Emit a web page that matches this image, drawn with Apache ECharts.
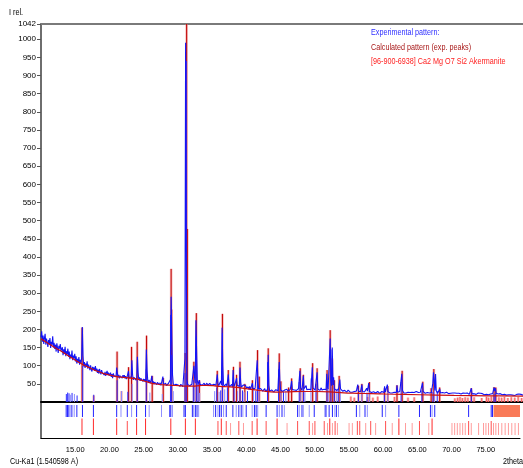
<!DOCTYPE html>
<html>
<head>
<meta charset="utf-8">
<script src="https://cdn.jsdelivr.net/npm/echarts@6/dist/echarts.min.js"></script>
<style>
html,body{margin:0;padding:0;background:#fff}
#chart{width:523px;height:468px}
</style>
</head>
<body>
<div id="chart"></div>
<script>
// Measured diffraction pattern: counts sampled every 0.1 deg 2theta from 10.0 to 80.0
const expStart = 10;
const expStep = 0.1;
const expCounts = [
  178,195,166,183,160,177,188,158,175,170,
  152,171,160,176,149,166,158,181,150,163,
  146,158,139,162,150,135,155,147,160,141,
  138,151,129,145,133,152,126,140,131,147,
  125,139,118,131,122,142,115,128,120,133,
  112,126,106,119,109,124,103,116,108,121,
  207,128,98,110,94,106,99,112,92,103,
  96,88,101,90,84,97,89,95,86,99,
  85,92,80,89,78,91,83,76,88,81,
  79,85,74,83,72,80,86,75,81,73,
  74,81,69,77,66,79,72,68,76,70,
  95,78,68,75,65,72,77,70,66,74,
  68,74,65,71,63,69,72,85,66,70,
  64,70,115,75,61,68,63,71,60,67,
  125,82,62,68,58,65,61,67,57,64,
  57,63,55,145,88,60,54,61,56,52,
  53,72,50,57,49,55,51,58,48,54,
  50,55,47,53,46,52,49,70,48,51,
  48,52,45,50,44,51,47,53,62,290,
  180,75,52,46,50,44,49,45,51,47,
  46,50,43,49,45,48,42,47,44,120,
  990,400,62,48,43,50,45,47,42,49,
  45,50,100,68,52,225,140,60,48,44,
  60,49,45,51,46,50,47,52,45,49,
  47,52,46,50,44,51,48,53,46,50,
  45,49,44,50,46,48,76,52,45,49,
  44,58,47,205,100,50,43,48,45,50,
  43,47,76,48,42,46,44,49,41,88,
  52,44,47,42,66,46,41,48,43,95,
  55,41,45,40,47,50,43,46,40,44,
  37,41,35,43,34,40,38,52,36,40,
  34,38,33,40,115,62,36,39,33,37,
  32,36,30,35,33,37,29,34,31,35,
  130,46,30,34,29,33,31,35,28,32,
  30,34,29,33,31,35,110,55,33,30,
  32,29,34,31,33,37,30,35,32,29,
  33,31,35,32,58,34,30,36,33,31,
  34,32,36,33,37,35,86,39,34,32,
  35,72,37,33,36,45,34,38,32,35,
  33,37,34,36,96,39,35,38,33,36,
  34,82,36,33,37,32,35,39,33,36,
  32,35,33,37,34,78,42,36,33,35,
  175,60,45,150,47,68,37,33,35,32,
  34,31,35,33,62,36,32,34,30,33,
  29,32,28,31,27,30,33,28,31,27,
  28,31,27,30,26,29,32,27,30,26,
  48,30,27,31,28,33,48,29,32,27,
  28,31,27,38,30,26,52,29,27,30,
  26,29,25,28,27,30,25,28,26,29,
  25,28,24,27,26,29,25,28,26,43,
  27,30,25,48,28,26,29,25,27,30,
  25,28,24,27,25,29,26,46,27,24,
  26,29,25,28,78,32,27,25,28,26,
  25,28,24,27,25,29,26,28,24,27,
  25,28,26,24,27,29,25,28,26,27,
  24,27,23,27,53,29,25,27,24,26,
  23,26,24,27,25,28,24,26,30,52,
  82,58,32,77,31,27,24,26,23,36,
  25,27,23,26,24,28,25,26,23,27,
  24,26,23,27,25,24,26,23,25,27,
  22,25,23,21,24,26,22,24,23,25,
  22,24,21,25,23,22,24,21,23,25,
  22,24,21,23,25,38,22,24,21,23,
  22,24,21,23,22,25,21,23,24,22,
  21,23,22,24,20,23,22,21,24,22,
  20,23,19,22,24,21,23,25,40,30,
  38,24,21,19,22,20,21,23,19,22,
  20,22,19,21,20,23,19,21,22,20,
  19,22,20,18,21,19,22,20,18,21,
  19,21,18,20,22,19,18,21,19,20,
  19
];

// Calculated background curve
const calcBgDeg = [10,11,12,13,14,15,16,17,18,19,20,21,22,23,24,25,26,27,28,29,30,31,32,33,34,35,36,37,38,39,40,42,44,46,48,50,52,54,56,58,60,65,70,75,80];
const calcBgVal = [174,162,150,139,127,115,104,95,86,79,74,70,68,66,63,58,52,49,47,46,45,44,44,45,46,45,43,42,41,39,36,31,27,28,29,29,28,25,24,23,22,20,18,17,16];

// Calculated peaks (exp. peaks): position and intensity
const calcPeakPos = [15.97,17.66,21.05,21.69,22.72,23.15,23.97,25.33,26.15,27.75,28.9,28.97,30.95,31.15,31.25,32.2,32.56,33.0,35.6,36.35,37.2,37.95,38.4,38.9,39.6,40.7,41.45,41.7,43.0,44.6,44.84,45.96,46.4,47.65,48.1,49.45,50.1,51.55,52.0,52.3,52.6,53.3,55.0,55.5,56.1,56.6,57.45,57.7,58.2,58.9,59.9,60.36,61.33,61.7,62.45,63.3,64.2,65.45,66.66,67.05,67.9,70.1,70.5,70.85,71.2,71.6,72.0,72.5,72.9,74.0,74.7,75.0,75.4,75.8,76.05,76.5,76.9,77.3,77.8,78.3,78.8,79.3,79.8];
const calcPeakInt = [205,18,139,30,96,152,166,183,72,66,367,255,135,1042,477,111,245,60,86,243,88,97,75,111,50,60,143,70,148,134,57,40,65,93,75,107,93,88,198,120,60,72,15,12,45,50,14,55,12,15,38,44,14,46,86,12,13,56,38,91,40,10,12,14,11,13,12,38,13,11,14,12,15,41,40,13,12,14,11,13,12,14,11];

// Experimental peak list: position, stick intensity, strong (1) / weak (0)
const expPeakPos = [13.68,13.87,14.07,14.26,14.51,14.85,15.24,16.06,17.66,21.06,21.69,22.61,23.24,23.97,25.28,25.81,27.61,28.82,28.97,29.21,30.9,31.1,32.12,32.31,32.56,32.8,33.04,35.22,35.52,35.86,36.1,36.35,36.68,37.07,38.04,38.53,38.91,39.26,39.5,39.99,40.86,41.19,41.44,41.67,42.9,44.5,44.83,45.22,45.56,47.5,47.74,48.14,48.33,49.2,49.93,51.53,51.72,52.11,52.59,52.94,53.17,53.47,56.09,56.58,57.35,57.69,59.87,60.36,62.3,65.31,66.91,67.15,67.54,72.49,75.79,75.98];
const expPeakInt = [22,26,24,20,25,22,18,100,20,60,30,28,50,60,90,26,22,240,130,30,80,940,60,40,180,50,25,30,40,28,32,190,35,40,50,30,60,32,28,30,34,30,90,36,110,90,30,28,30,55,30,40,30,65,50,45,38,145,40,36,38,32,24,28,26,30,20,28,55,32,28,58,30,20,22,25];
const expPeakStrong = [1,1,1,0,1,0,1,1,1,1,0,1,0,1,1,0,0,1,1,0,1,1,1,0,1,1,0,0,1,0,1,1,0,1,1,0,1,1,0,1,0,1,1,0,1,1,0,1,0,1,0,1,0,0,1,1,0,1,1,0,1,0,1,0,1,0,1,0,1,1,1,0,1,1,1,1];
// Region flagged in the experimental peak row (deg 2theta)
const expBandRange = [76.13, 80];

// Reference card [96-900-6938] Akermanite: line positions and strength class (1 strong .. 3 weak)
const refPos = [15.99,17.66,21.06,22.61,23.97,25.28,28.97,31.1,32.56,35.86,36.35,37.07,37.7,38.91,39.59,40.86,41.58,42.9,44.5,45.96,47.5,49.2,49.69,50.03,51.39,51.87,52.2,52.59,52.98,53.32,55.02,55.5,56.23,56.58,57.45,58.18,58.9,60.36,61.33,62.3,63.27,64.24,65.31,66.67,67.15,70.06,70.45,70.84,71.23,71.62,72.0,72.49,72.88,73.95,74.67,75.02,75.4,75.79,76.13,76.47,76.86,77.34,77.83,78.31,78.8,79.28,79.77];
const refLevel = [1,1,1,2,1,1,1,1,1,2,1,2,3,2,3,2,1,2,1,3,2,2,3,2,2,3,1,3,2,3,3,3,2,2,3,2,3,2,3,1,3,3,2,3,1,3,3,3,3,3,3,2,3,3,3,3,3,2,3,3,3,3,3,3,3,3,3];

// Axis settings
const xMin = 10, xMax = 80, xTickStep = 5;
const yMax = 1042, yTickStep = 50;

const FONT = "'Liberation Sans',Arial,sans-serif";

const expData = expCounts.map((v, i) => [+(expStart + i * expStep).toFixed(2), v]);
const bgData = calcBgDeg.map((d, i) => [d, calcBgVal[i]]);
const calcPeaks = calcPeakPos.map((d, i) => [d, calcPeakInt[i]]);
const expPeaks = expPeakPos.map((d, i) => [d, expPeakInt[i], expPeakStrong[i]]);
const refLines = refPos.map((d, i) => [d, refLevel[i]]);

// lower panel rows, in units of its 0..36 vertical scale
const ROW_EXP = [33, 21];
const ROW_REF_TOP = {1: 19.5, 2: 17, 3: 15};
const ROW_REF_BOTTOM = 3;
const REF_COLOR = {1: '#ff2a2a', 2: '#ff5050', 3: '#ff9c9c'};

// condensed caption text
function caption(x, y, text, color) {
  return {
    type: 'text', x: x, y: y, scaleX: 0.8, z: 10,
    style: {text: text, font: '9px ' + FONT, fill: color, textVerticalAlign: 'middle'}
  };
}

const chart = echarts.init(document.getElementById('chart'), null, {renderer: 'canvas'});

chart.setOption({
  animation: false,
  backgroundColor: '#ffffff',
  grid: [
    {left: 41, top: 24, right: 0, height: 378},
    {left: 41, top: 402, right: 0, height: 36}
  ],
  xAxis: [
    {
      type: 'value', gridIndex: 0, min: xMin, max: xMax, position: 'bottom',
      axisLine: {show: true, onZero: false, lineStyle: {color: '#000', width: 2}},
      axisTick: {show: false}, axisLabel: {show: false}, splitLine: {show: false}
    },
    {
      type: 'value', gridIndex: 1, min: xMin, max: xMax, interval: xTickStep,
      axisLine: {show: true, onZero: false, lineStyle: {color: '#000', width: 1}},
      axisTick: {show: false},
      axisLabel: {
        margin: 8, fontSize: 7.5, fontFamily: FONT, color: '#000',
        formatter: v => (v === xMin || v === xMax) ? '' : v.toFixed(2)
      },
      splitLine: {show: false}
    },
    {
      type: 'value', gridIndex: 0, min: xMin, max: xMax, position: 'top',
      axisLine: {show: true, onZero: false, lineStyle: {color: '#7a7a7a', width: 2}},
      axisTick: {show: false}, axisLabel: {show: false}, splitLine: {show: false}
    }
  ],
  yAxis: [
    {
      type: 'value', gridIndex: 0, min: 0, max: yMax, interval: yTickStep,
      axisLine: {show: true, onZero: false, lineStyle: {color: '#6e6e6e', width: 2}},
      axisTick: {show: true, length: 4, lineStyle: {color: '#555', width: 1}},
      axisLabel: {
        margin: 5, fontSize: 8, fontFamily: FONT, color: '#000',
        showMaxLabel: true, showMinLabel: false,
        formatter: v => v === 0 ? '' : String(v)
      },
      splitLine: {show: false}
    },
    {
      type: 'value', gridIndex: 1, min: 0, max: 36,
      axisLine: {show: true, onZero: false, lineStyle: {color: '#6e6e6e', width: 2}},
      axisTick: {show: false}, axisLabel: {show: false}, splitLine: {show: false}
    }
  ],
  series: [
    {
      name: 'Calculated pattern', type: 'custom', xAxisIndex: 0, yAxisIndex: 0,
      data: calcPeaks, z: 2,
      renderItem: (params, api) => {
        const x = api.value(0), h = api.value(1);
        const p0 = api.coord([x, 0]), p1 = api.coord([x, h]);
        const shape = {x1: p0[0], y1: p0[1], x2: p1[0], y2: p1[1]};
        return {
          type: 'group',
          children: [
            {type: 'line', shape: shape, style: {stroke: 'rgba(235,120,120,0.5)', lineWidth: 2.6}},
            {type: 'line', shape: shape, style: {stroke: h > 30 ? '#c00000' : '#ff6060', lineWidth: 1}}
          ]
        };
      }
    },
    {
      name: 'Experimental pattern', type: 'line', xAxisIndex: 0, yAxisIndex: 0,
      data: expData, showSymbol: false, symbol: 'none', z: 3,
      lineStyle: {color: '#1414f5', width: 1.1}
    },
    {
      name: 'exp peaks', type: 'custom', xAxisIndex: 0, yAxisIndex: 0,
      data: expPeaks, z: 3,
      renderItem: (params, api) => {
        const x = api.value(0), h = api.value(1), strong = api.value(2);
        const p0 = api.coord([x, 0]), p1 = api.coord([x, h]);
        return {
          type: 'line',
          shape: {x1: p0[0], y1: p0[1], x2: p1[0], y2: p1[1]},
          style: {stroke: strong ? '#2a2aff' : '#8a8aff', lineWidth: 1}
        };
      }
    },
    {
      name: 'Calculated background', type: 'line', xAxisIndex: 0, yAxisIndex: 0,
      data: bgData, showSymbol: false, symbol: 'none', smooth: 0.4, z: 4,
      lineStyle: {color: '#cc1010', width: 1.2}
    },
    {
      name: 'exp peak row', type: 'custom', xAxisIndex: 1, yAxisIndex: 1,
      data: expPeaks, z: 3,
      renderItem: (params, api) => {
        const x = api.value(0), strong = api.value(2);
        const p0 = api.coord([x, ROW_EXP[0]]), p1 = api.coord([x, ROW_EXP[1]]);
        return {
          type: 'line',
          shape: {x1: p0[0], y1: p0[1], x2: p1[0], y2: p1[1]},
          style: {stroke: strong ? '#2323ff' : '#9090ff', lineWidth: 1}
        };
      }
    },
    {
      name: 'exp band', type: 'custom', xAxisIndex: 1, yAxisIndex: 1,
      data: [[expBandRange[0], expBandRange[1]]], z: 3,
      renderItem: (params, api) => {
        const a = api.coord([api.value(0), ROW_EXP[0]]);
        const b = api.coord([api.value(1), ROW_EXP[1]]);
        return {
          type: 'rect',
          shape: {x: a[0], y: a[1], width: b[0] - a[0], height: b[1] - a[1]},
          style: {fill: '#f97a58'}
        };
      }
    },
    {
      name: '[96-900-6938] Ca2 Mg O7 Si2 Akermanite', type: 'custom', xAxisIndex: 1, yAxisIndex: 1,
      data: refLines, z: 3,
      renderItem: (params, api) => {
        const x = api.value(0), lv = api.value(1);
        const p0 = api.coord([x, ROW_REF_BOTTOM]), p1 = api.coord([x, ROW_REF_TOP[lv]]);
        return {
          type: 'line',
          shape: {x1: p0[0], y1: p0[1], x2: p1[0], y2: p1[1]},
          style: {stroke: REF_COLOR[lv], lineWidth: 1}
        };
      }
    }
  ],
  graphic: [
    caption(9, 13, 'I rel.', '#000'),
    caption(10, 462, 'Cu-Ka1 (1.540598 A)', '#000'),
    caption(503, 462, '2theta', '#000'),
    caption(371, 33, 'Experimental pattern:', '#2f2fff'),
    caption(371, 47.5, 'Calculated pattern (exp. peaks)', '#a81818'),
    caption(371, 62, '[96-900-6938] Ca2 Mg O7 Si2 Akermanite', '#ff2020')
  ]
});
</script>
</body>
</html>
